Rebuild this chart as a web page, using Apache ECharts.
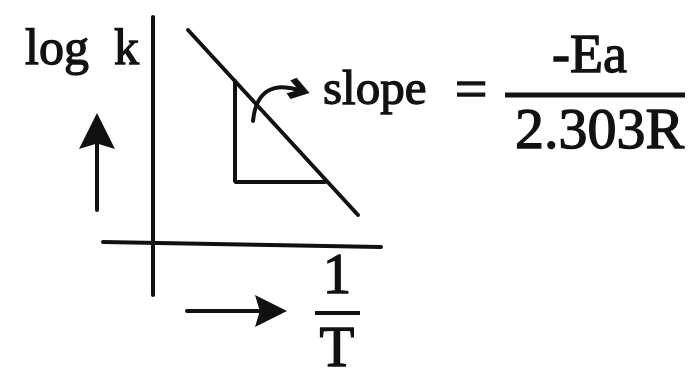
<!DOCTYPE html>
<html>
<head>
<meta charset="utf-8">
<script src="https://cdn.jsdelivr.net/npm/echarts@6/dist/echarts.min.js"></script>
<style>
  html, body { margin: 0; padding: 0; background: #fff; }
  #c { width: 689px; height: 371px; }
</style>
</head>
<body>
<div id="c"></div>
<script>
// Arrhenius plot sketch: log k against 1/T.
// Diagram units, origin where the two axes cross.
const xAxisSpan = [[-50, 1], [228, -4]];
const yAxisSpan = [[0, 226], [0, -52]];
const fitLine = [[35, 213], [205, 28]];
const slopeTriangle = [[82, 162], [82, 61], [172, 61]];
const slopePointer = [[100, 122], [146, 153]];
const logKArrow = [[-56, 33], [-56, 112]];
const invTArrow = [[34, -68], [118, -68]];

const INK = '#111';
const SERIF = '"Liberation Serif", "Times New Roman", serif';

const chart = echarts.init(document.getElementById('c'), null, { renderer: 'canvas' });

function stroke(name, pts) {
  return {
    type: 'line', name: name, data: pts,
    symbol: 'none', showSymbol: false, silent: true, animation: false,
    lineStyle: { color: INK, width: 4, cap: 'round' }
  };
}

function arrow(name, pts, head, size, curveness) {
  return {
    type: 'lines', name: name, coordinateSystem: 'cartesian2d',
    silent: true, animation: false,
    symbol: ['none', head], symbolSize: [0, size],
    itemStyle: { color: INK },
    lineStyle: { color: INK, width: 4, opacity: 1, curveness: curveness, cap: 'round' },
    data: [{ coords: pts }]
  };
}

const FILLED_HEAD = 'path://M10,0 L20,20 L10,17 L0,20 Z';
const OPEN_HEAD = 'path://M0,11 L10,0 L20,11 L16,14.5 L10,7.5 L4,14.5 Z';

function label(text, x, baseline, size, align) {
  return {
    type: 'text', silent: true,
    style: {
      text: text, x: x, y: baseline - 0.84 * size,
      font: size + 'px ' + SERIF, fill: INK,
      stroke: INK, lineWidth: 1.3,
      textAlign: align || 'left', textVerticalAlign: 'top'
    }
  };
}

function bar(x1, x2, y, w) {
  return {
    type: 'line', silent: true,
    shape: { x1: x1, y1: y, x2: x2, y2: y },
    style: { stroke: INK, lineWidth: w }
  };
}

chart.setOption({
  animation: false,
  backgroundColor: '#fff',
  grid: { left: 0, right: 0, top: 0, bottom: 0 },
  xAxis: { type: 'value', min: -153, max: 536, show: false },
  yAxis: { type: 'value', min: -128, max: 243, show: false },
  series: [
    stroke('x-axis', xAxisSpan),
    stroke('y-axis', yAxisSpan),
    stroke('log k vs 1/T', fitLine),
    stroke('slope triangle', slopeTriangle),
    arrow('slope pointer', slopePointer, OPEN_HEAD, 22, 0.6),
    arrow('log k direction', logKArrow, FILLED_HEAD, 36, 0),
    arrow('1/T direction', invTArrow, FILLED_HEAD, 32, 0)
  ],
  graphic: [
    label('log\u2002k', 25, 68, 50),
    label('slope', 323, 108, 49),
    label('=', 471, 112, 58, 'center'),
    label('-Ea', 552, 76, 54),
    bar(505, 685, 95, 5),
    label('2.303R', 515, 152, 58),
    label('1', 337, 297, 57, 'center'),
    bar(315, 360, 313, 4),
    label('T', 337, 370, 57, 'center')
  ]
});
</script>
</body>
</html>
